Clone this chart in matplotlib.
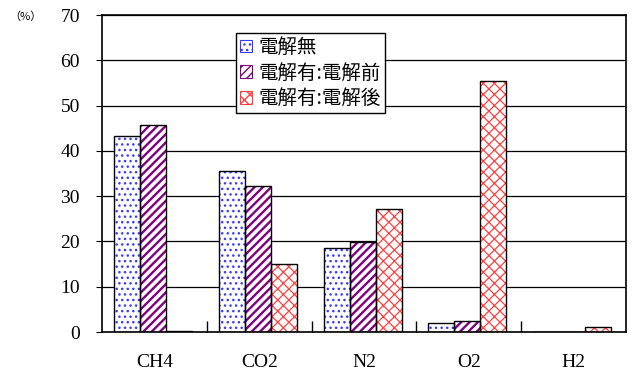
import matplotlib.pyplot as plt
from matplotlib.patches import Patch
import numpy as np

plt.rcParams['font.family'] = ['Liberation Serif', 'Noto Sans CJK JP']

gases = ['CH4', 'CO2', 'N2', 'O2', 'H2']
no_elec = [43.3, 35.5, 18.6, 2.0, 0.0]
elec_before = [45.8, 32.2, 19.8, 2.5, 0.0]
elec_after = [0.3, 15.0, 27.2, 55.5, 1.1]

labels = ['電解無', '電解有:電解前', '電解有:電解後']
series = [no_elec, elec_before, elec_after]
hatches = ['...', '////', 'xxx']
hatch_colors = ['#3a3aff', '#800080', '#ff4040']
hatch_widths = [1.0, 1.7, 0.9]

fig = plt.figure(figsize=(6.32, 3.80), dpi=100)
ax = fig.add_axes([0.1614, 0.1263, 0.8291, 0.8342])

x = np.arange(len(gases))
w = 0.248
handles = []
for i, (vals, h, c, lw) in enumerate(zip(series, hatches, hatch_colors, hatch_widths)):
    pos = x - 0.5 + 0.115 + w * (i + 0.5)
    with plt.rc_context({'hatch.linewidth': lw}):
        ax.bar(pos, vals, width=w, facecolor='white', edgecolor=c,
               linewidth=0, hatch=h, zorder=2)
        handles.append(Patch(facecolor='white', edgecolor=c, hatch=h, linewidth=0.8))
    ax.bar(pos, vals, width=w, fill=False, edgecolor='black', linewidth=1.0, zorder=3)

ax.set_xlim(-0.5, 4.5)
ax.set_ylim(0, 70)
ax.set_yticks(range(0, 71, 10))
ax.yaxis.grid(True, color='black', linewidth=0.9)
ax.set_axisbelow(True)
ax.tick_params(axis='y', direction='out', length=4, labelsize=14, pad=12)

ax.set_xticks(x)
ax.set_xticklabels(gases)
ax.tick_params(axis='x', length=0, labelsize=14, pad=16)
ax.set_xticks(np.arange(0.5, 4.5, 1), minor=True)
ax.tick_params(axis='x', which='minor', direction='in', length=8, width=1)

for s in ax.spines.values():
    s.set_linewidth(1.2)

leg = ax.legend(handles, labels, loc='upper left', bbox_to_anchor=(0.2557, 0.944),
                prop={'family': 'Noto Sans CJK JP', 'size': 14},
                handlelength=0.6, handleheight=0.6, handletextpad=0.35,
                labelspacing=0.25, borderpad=0.2, borderaxespad=0, fancybox=False,
                edgecolor='black', framealpha=1)
leg.get_frame().set_linewidth(1.0)
leg.set_zorder(5)

fig.text(0.015, 0.955, '（%）', fontsize=8, family='Noto Sans CJK JP', va='center')

fig.savefig('out.png', dpi=100)
